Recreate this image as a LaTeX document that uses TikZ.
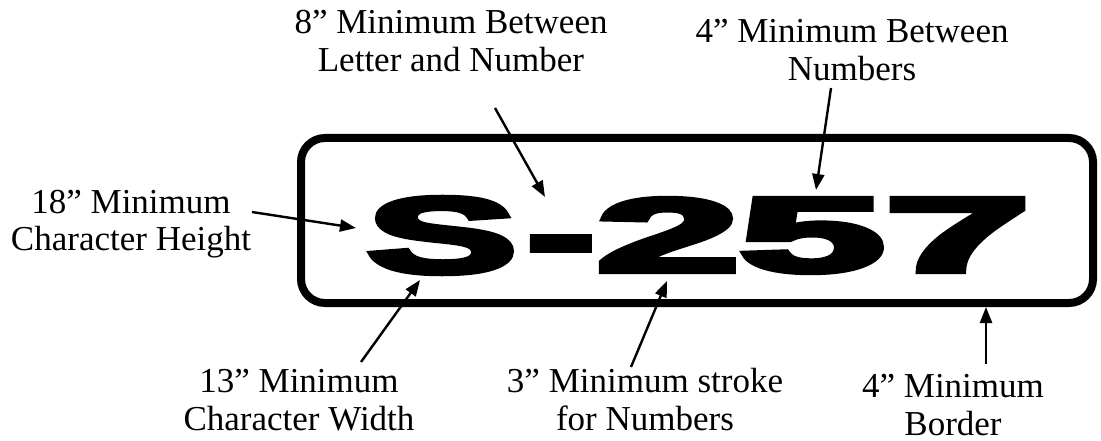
\documentclass[tikz,border=0pt]{standalone}
\usepackage{fontspec}
\setmainfont{Liberation Serif}
\newfontfamily\platefont{Liberation Sans}[BoldFeatures={FakeBold=5}]
\usetikzlibrary{arrows.meta}
\newcommand\plateglyph[3]{\resizebox{#1pt}{#2pt}{\platefont\bfseries #3}}
\newcommand\twolines[2]{\begin{tabular}[t]{@{}c@{}}#1\\#2\end{tabular}}
\begin{document}
\begin{tikzpicture}[x=1pt,y=-1pt,
  lbl/.style={inner sep=0pt, anchor=base, font=\fontsize{35}{38}\selectfont},
  arr/.style={line width=2.4pt, -{Triangle[length=16pt,width=12pt]}},
  glyph/.style={inner sep=0pt, anchor=base},
  plate/.style={line width=8pt, rounded corners=24pt}]
\useasboundingbox (0,0) rectangle (1101,441);
% plate
\draw[plate] (301,138) rectangle (1093,303);
\node[glyph] (gS) at (442,272.5) {\plateglyph{150}{75}{S}};
\node[glyph] (gH) at (561,272) {\plateglyph{68}{35}{-}};
\node[glyph] (g2) at (668,271.5) {\plateglyph{143}{73}{2}};
\node[glyph] (g5) at (812,271.5) {\plateglyph{145}{73}{5}};
\node[glyph] (g7) at (957.5,271.5) {\plateglyph{145}{73}{7}};
% labels
\node[lbl] (l8) at (451,34) {\twolines{8” Minimum Between}{Letter and Number}};
\node[lbl] (l4t) at (852,43) {\twolines{4” Minimum Between}{Numbers}};
\node[lbl] (l18) at (131,213) {\twolines{18” Minimum}{Character Height}};
\node[lbl] (l13) at (299,392) {\twolines{13” Minimum}{Character Width}};
\node[lbl] (l3) at (645,392) {\twolines{3” Minimum stroke}{for Numbers}};
\node[lbl] (l4b) at (953,397) {\twolines{4” Minimum}{Border}};
% arrow ends
\coordinate (t8) at (495,108);  \coordinate (h8) at (545,197);
\coordinate (t4t) at (831,88);  \coordinate (h4t) at (816,190);
\coordinate (t18) at (252,212); \coordinate (h18) at (356,228);
\coordinate (t13) at (361,362); \coordinate (h13) at (420,280);
\coordinate (t3) at (631,367);  \coordinate (h3) at (667,281);
\coordinate (t4b) at (986,364); \coordinate (h4b) at (986,307);
\draw[arr] (t8) -- (h8);
\draw[arr] (t4t) -- (h4t);
\draw[arr] (t18) -- (h18);
\draw[arr] (t13) -- (h13);
\draw[arr] (t3) -- (h3);
\draw[arr] (t4b) -- (h4b);
\end{tikzpicture}
\end{document}
